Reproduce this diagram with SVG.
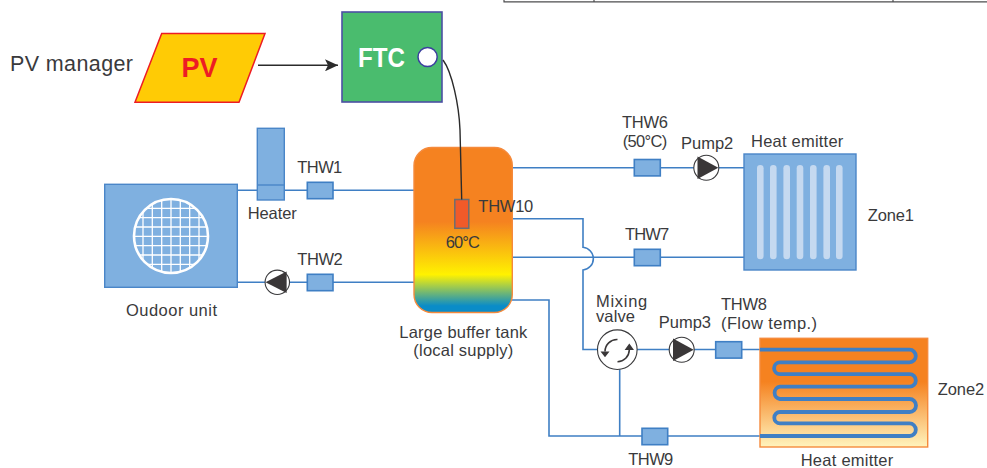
<svg xmlns="http://www.w3.org/2000/svg" width="987" height="468" viewBox="0 0 987 468">
<style>
text{font-family:"Liberation Sans",Arial,sans-serif;font-size:16.5px;fill:#3a3a3c}
.pipe{fill:none;stroke:#3f7fc4;stroke-width:1.6}
.sensor{fill:#7fb0e0;stroke:#3f7fc4;stroke-width:1.6}
.unit{fill:#7fb0e0;stroke:#4a86c8;stroke-width:1.4}
.pumpbody{fill:#fff;stroke:#3a3a3c;stroke-width:1.1}
.dark{fill:#3a3738}
.bar{fill:#c5d9f0}
.grid{stroke:#fff;stroke-width:1.3;fill:none}
.wire{fill:none;stroke:#2b2b2b;stroke-width:1.4}
.bold{font-weight:bold}
</style>
<defs>
<linearGradient id="tankFill" x1="0" y1="0" x2="0" y2="1">
<stop offset="0" stop-color="#f58220"/><stop offset="0.45" stop-color="#f58220"/><stop offset="0.77" stop-color="#fff200"/><stop offset="0.96" stop-color="#0a8cc8"/><stop offset="1" stop-color="#0a8cc8"/>
</linearGradient>
<linearGradient id="floorFill" x1="0" y1="0" x2="0" y2="1">
<stop offset="0" stop-color="#f58220"/><stop offset="0.4" stop-color="#f58220"/><stop offset="1" stop-color="#fff4bd"/>
</linearGradient>
<clipPath id="fanClip"><circle cx="171" cy="236" r="37"/></clipPath>
<marker id="arrow" markerUnits="userSpaceOnUse" markerWidth="14" markerHeight="12" refX="13" refY="6" orient="auto"><path d="M0 0L13 6L0 12L3 6Z" fill="#2b2b2b"/></marker>
</defs>

<g id="table-fragment" fill="none" stroke="#4d4d4f" stroke-width="1.2">
<path d="M504 0V1.8H987M594 0V1.8M893 0V1.8"/>
</g>

<g id="connectors">
<path class="pipe" d="M237 190.3H414"/>
<path class="pipe" d="M237 282.3H414"/>
<path class="pipe" d="M512 167.7H744"/>
<path class="pipe" d="M512 218.7H583V247.3A11.4 11.4 0 0 1 583 270V349.5H598"/>
<path class="pipe" d="M512 257.3H744"/>
<path class="pipe" d="M512 300H549V436H762"/>
<path class="pipe" d="M636 349.5H762"/>
<path class="pipe" d="M619.7 368V436"/>
<path d="M258 65.3H338" fill="none" stroke="#2b2b2b" stroke-width="1.4" marker-end="url(#arrow)"/>
</g>

<g id="pv-manager"><text x="10" y="71" style="font-size:21.5px" textLength="123">PV manager</text></g>
<g id="pv">
<path d="M161.7 33.5H265L239 102.3H135Z" fill="#ffcb05" stroke="#ed1c24" stroke-width="1.5"/>
<text class="bold" x="181.5" y="77" style="font-size:28px;fill:#ed1c24" textLength="36" lengthAdjust="spacingAndGlyphs">PV</text>
</g>
<g id="ftc">
<rect x="342" y="12" width="100" height="90" fill="#4abc6e" stroke="#4b4fa3" stroke-width="1.6"/>
<text class="bold" x="358" y="66.5" style="font-size:28px;fill:#fff" textLength="47" lengthAdjust="spacingAndGlyphs">FTC</text>
<circle cx="427.6" cy="57" r="9.6" fill="#fff" stroke="#3b3f9e" stroke-width="1.5"/>
</g>

<g id="outdoor-unit">
<rect class="unit" x="104.7" y="184.3" width="132.6" height="103"/>
<g clip-path="url(#fanClip)">
<path class="grid" d="M143 199V273M152.3 199V273M161.7 199V273M171 199V273M180.3 199V273M189.7 199V273M199 199V273M134 208.3H208M134 217.7H208M134 227H208M134 236.3H208M134 245.7H208M134 255H208M134 264.3H208"/>
</g>
<circle cx="171" cy="236" r="37" fill="none" stroke="#fff" stroke-width="2.6"/>
<text x="126" y="316" textLength="91">Oudoor unit</text>
</g>
<g id="heater">
<rect class="unit" x="257.3" y="128.3" width="27" height="71.7"/>
<path d="M257.3 185H284.3" fill="none" stroke="#4a86c8" stroke-width="1.4"/>
<text x="247.7" y="219" textLength="49">Heater</text>
</g>
<g id="thw1"><rect class="sensor" x="307.3" y="182.3" width="25.7" height="16.4"/><text x="297.3" y="173.3" textLength="45">THW1</text></g>
<g id="thw2"><rect class="sensor" x="307.3" y="274.3" width="25.7" height="16.4"/><text x="297.3" y="265.3" textLength="45.5">THW2</text></g>
<g id="pump1"><circle class="pumpbody" cx="277.3" cy="282.3" r="12.2"/><path class="dark" d="M265.5 282.3L286.6 271.5V293.1Z"/></g>

<g id="tank">
<rect x="414" y="147.5" width="98.3" height="165" rx="18" fill="url(#tankFill)" stroke="#f58a3c" stroke-width="1.4"/>
<rect x="454.8" y="199.5" width="14" height="28.8" fill="#f15a29" stroke="#6d6e71" stroke-width="1.5"/>
<text x="445.7" y="247.7" textLength="34.3">60°C</text>
<text x="399.3" y="338.3" textLength="128">Large buffer tank</text>
<text x="413.3" y="355.7" textLength="100">(local supply)</text>
</g>
<g id="control-wire"><path class="wire" d="M443 60C452 72 459 105 460 130L461.7 199.5"/></g>
<g id="thw10"><text x="478.3" y="212.3" textLength="55">THW10</text></g>

<g id="thw6"><rect class="sensor" x="634.3" y="159.5" width="26" height="16.4"/><text x="622" y="128" textLength="46">THW6</text><text x="622.7" y="147" textLength="44.6">(50°C)</text></g>
<g id="pump2"><circle class="pumpbody" cx="706.3" cy="167.7" r="12.5"/><path class="dark" d="M718.3 167.7L697.5 156.5V178.9Z"/><text x="681" y="149.3" textLength="52.3">Pump2</text></g>
<g id="zone1-emitter">
<rect class="unit" x="744" y="154" width="112" height="116"/>
<rect class="bar" x="757" y="165" width="6.6" height="94.3" rx="3.3"/>
<rect class="bar" x="770" y="165" width="6.6" height="94.3" rx="3.3"/>
<rect class="bar" x="783.4" y="165" width="6.6" height="94.3" rx="3.3"/>
<rect class="bar" x="796.7" y="165" width="6.6" height="94.3" rx="3.3"/>
<rect class="bar" x="810" y="165" width="6.6" height="94.3" rx="3.3"/>
<rect class="bar" x="823.4" y="165" width="6.6" height="94.3" rx="3.3"/>
<rect class="bar" x="836" y="165" width="6.6" height="94.3" rx="3.3"/>
<text x="751" y="146.7" textLength="92.3">Heat emitter</text>
<text x="867.7" y="221" textLength="46.3">Zone1</text>
</g>
<g id="thw7"><rect class="sensor" x="634.3" y="249.3" width="26" height="16.4"/><text x="625" y="240" textLength="44.3">THW7</text></g>

<g id="mixing-valve">
<circle class="pumpbody" cx="617.3" cy="349.7" r="19.8"/>
<path d="M617.5 339.5A12 12 0 0 0 605 351.5M617.5 361.7A12 12 0 0 0 629.3 350" fill="none" stroke="#3a3738" stroke-width="1.6"/>
<path class="dark" d="M600.5 351.5H609.5L605 357.3ZM624.6 350H634L629.3 343.5Z"/>
<text x="596" y="306.7" textLength="51.3">Mixing</text>
<text x="596" y="322" textLength="39">valve</text>
</g>
<g id="pump3"><circle class="pumpbody" cx="681.7" cy="349.7" r="12.5"/><path class="dark" d="M693.7 349.7L673 338.5V360.9Z"/><text x="658.7" y="328.3" textLength="52.3">Pump3</text></g>
<g id="thw8"><rect class="sensor" x="715.7" y="341.7" width="26" height="16.4"/><text x="721" y="310" textLength="46">THW8</text><text x="721" y="329" textLength="96">(Flow temp.)</text></g>
<g id="thw9"><rect class="sensor" x="642" y="428.3" width="25.7" height="16.4"/><text x="628.3" y="465" textLength="45">THW9</text></g>
<g id="zone2-emitter">
<rect x="760" y="338.3" width="167.7" height="108.7" fill="url(#floorFill)" stroke="#f58a3c" stroke-width="1.4"/>
<path d="M760 349.7H909.5A6.3 6.3 0 0 1 909.5 362.3H780A5.9 5.9 0 0 0 780 374.1H909.5A6.3 6.3 0 0 1 909.5 386.7H780A6.2 6.2 0 0 0 780 399H909.5A6.5 6.5 0 0 1 909.5 412H780A5.7 5.7 0 0 0 780 423.4H909.5A6.3 6.3 0 0 1 909.5 436H760" fill="none" stroke="#3f7fc4" stroke-width="3.8"/>
<text x="800.7" y="466" textLength="92.6">Heat emitter</text>
<text x="937.7" y="395" textLength="46.6">Zone2</text>
</g>
</svg>
